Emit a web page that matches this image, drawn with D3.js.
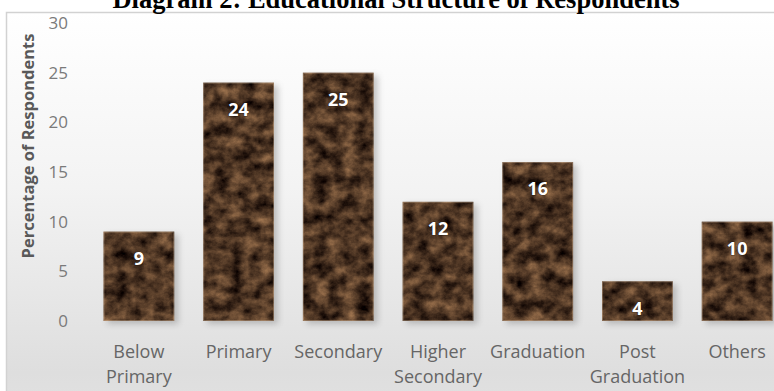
<!DOCTYPE html>
<html><head><meta charset="utf-8">
<script src="https://cdn.jsdelivr.net/npm/d3@7"></script>
<style>html,body{margin:0;padding:0;background:#fff;overflow:hidden}</style>
</head><body>
<script>
const categories = [["Below","Primary"],["Primary"],["Secondary"],["Higher","Secondary"],["Graduation"],["Post","Graduation"],["Others"]];
const values = [9, 24, 25, 12, 16, 4, 10];
const yTicks = [0, 5, 10, 15, 20, 25, 30];
const title = "Diagram 2: Educational Structure of Respondents";
const yTitle = "Percentage of Respondents";

const W = 774, H = 391;
const svg = d3.select("body").append("svg").attr("width", W).attr("height", H);
const defs = svg.append("defs");

const bg = defs.append("linearGradient").attr("id","bg").attr("x1",0).attr("y1",0).attr("x2",0).attr("y2",1);
[[0,"#ffffff"],[0.35,"#f3f3f3"],[0.72,"#dedede"],[0.82,"#e2e2e2"],[1,"#f9f9f9"]].forEach(([o,c])=>bg.append("stop").attr("offset",o).attr("stop-color",c));

const f = defs.append("filter").attr("id","marble").attr("x",0).attr("y",0).attr("width",1).attr("height",1)
  .attr("color-interpolation-filters","sRGB");
f.append("feTurbulence").attr("type","fractalNoise").attr("baseFrequency","0.07 0.08").attr("numOctaves",5).attr("seed",11).attr("result","n");
f.append("feColorMatrix").attr("in","n").attr("type","matrix")
 .attr("values","0.75 0 0 0 -0.07  0.58 0 0 0 -0.08  0.4 0 0 0 -0.06  0 0 0 0 1").attr("result","c");
f.append("feComposite").attr("in","c").attr("in2","SourceGraphic").attr("operator","in");

const sh = defs.append("filter").attr("id","shadow").attr("x","-20%").attr("y","-20%").attr("width","150%").attr("height","150%");
sh.append("feGaussianBlur").attr("stdDeviation",3);

// frame
svg.append("rect").attr("x",6.5).attr("y",12.5).attr("width",900).attr("height",500)
  .attr("fill","url(#bg)").attr("stroke","#d2d2d2").attr("stroke-width",1.5);

svg.append("text").attr("x",396).attr("y",8).attr("text-anchor","middle")
  .attr("font-family","'Liberation Serif','Times New Roman',serif").attr("font-weight","bold")
  .attr("font-size",26.5).attr("fill","#000").text(title);

const y = d3.scaleLinear().domain([0,30]).range([321,23]);
const x = d3.scaleBand().domain(d3.range(values.length)).range([89,787]).paddingInner(0.29).paddingOuter(0.145);

const yAxis = svg.append("g").attr("transform","translate(74,0)")
  .call(d3.axisLeft(y).tickValues(yTicks).tickSize(0).tickPadding(6));
yAxis.select(".domain").remove();
yAxis.selectAll("text").attr("font-family","'Open Sans',sans-serif").attr("font-size",17).attr("fill","#7a7a7a");

svg.append("text").attr("transform","translate(28,146) rotate(-90)").attr("text-anchor","middle")
  .attr("dy","0.35em")
  .attr("font-family","'Open Sans',sans-serif").attr("font-weight","bold").attr("font-size",16.5)
  .attr("fill","#595959").text(yTitle);

const g = svg.append("g");
g.selectAll("rect.sh").data(values).join("rect").attr("class","sh")
  .attr("x",(d,i)=>x(i)+4).attr("y",d=>y(d)+3).attr("width",x.bandwidth()).attr("height",d=>y(0)-y(d))
  .attr("fill","#808080").attr("opacity",0.45).attr("filter","url(#shadow)");
g.selectAll("rect.bar").data(values).join("rect").attr("class","bar")
  .attr("x",(d,i)=>x(i)).attr("y",d=>y(d)).attr("width",x.bandwidth()).attr("height",d=>y(0)-y(d))
  .attr("fill","#000").attr("filter","url(#marble)");
g.selectAll("rect.ol").data(values).join("rect").attr("class","ol")
  .attr("x",(d,i)=>x(i)+0.5).attr("y",d=>y(d)+0.5).attr("width",x.bandwidth()-1).attr("height",d=>y(0)-y(d)-1)
  .attr("fill","none").attr("stroke","#e8c8a8").attr("stroke-opacity",0.35).attr("stroke-width",1);

g.selectAll("text.v").data(values).join("text").attr("class","v")
  .attr("x",(d,i)=>x(i)+x.bandwidth()/2).attr("y",d=>y(d)+27).attr("dy","0.35em")
  .attr("text-anchor","middle").attr("font-family","'Open Sans',sans-serif").attr("font-weight","bold")
  .attr("font-size",18).attr("fill","#fff").style("paint-order","stroke")
  .attr("stroke","rgba(0,0,0,0.25)").attr("stroke-width",1.5).text(d=>d);

const lab = svg.append("g");
categories.forEach((lines,i)=>{
  const t = lab.append("text").attr("x",x(i)+x.bandwidth()/2).attr("y",358).attr("text-anchor","middle")
    .attr("font-family","'Open Sans',sans-serif").attr("font-size",18).attr("fill","#666");
  lines.forEach((l,j)=>t.append("tspan").attr("x",x(i)+x.bandwidth()/2).attr("y",358+j*25).text(l));
});
</script>
</body></html>
